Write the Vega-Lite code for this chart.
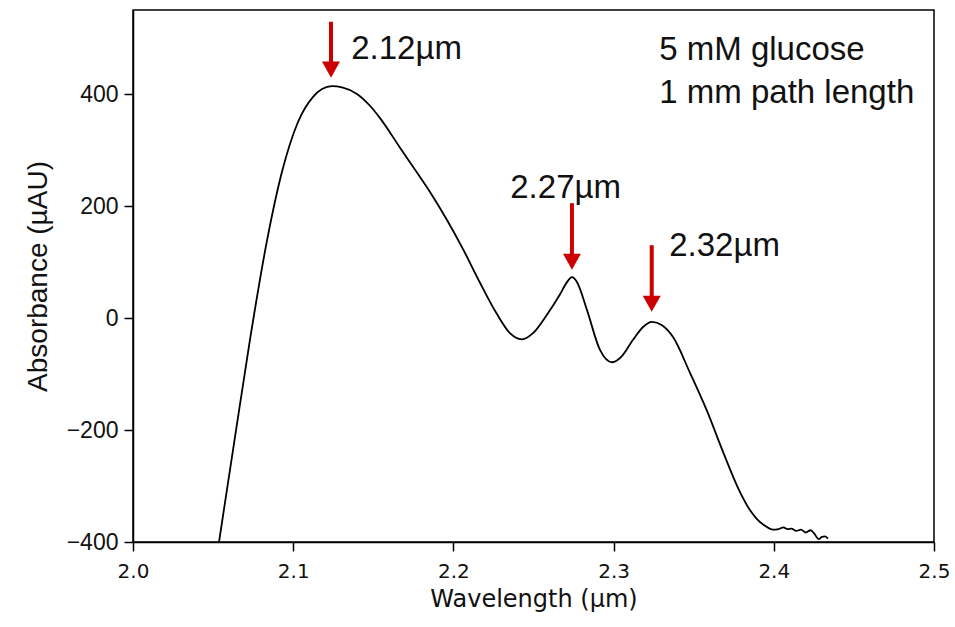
{
  "$schema": "https://vega.github.io/schema/vega-lite/v6.json",
  "width": 801,
  "height": 532,
  "autosize": "none",
  "padding": {"left": 133, "top": 10, "right": 21, "bottom": 85},
  "background": "white",
  "config": {
    "font": "Liberation Sans",
    "view": {"stroke": "black", "strokeWidth": 1.5},
    "axis": {"grid": false, "domainColor": "black", "domainWidth": 1.5, "tickColor": "black", "tickWidth": 1.5, "tickSize": 9, "labelColor": "#111", "titleColor": "#111", "titleFontWeight": "normal", "labelFlush": false, "labelOverlap": false}
  },
  "datasets": {
    "spectrum": [
      {"wl": 2.0537, "abs": -400},
      {"wl": 2.0574, "abs": -330},
      {"wl": 2.0637, "abs": -212},
      {"wl": 2.0730, "abs": -39},
      {"wl": 2.0837, "abs": 139},
      {"wl": 2.0930, "abs": 261},
      {"wl": 2.1030, "abs": 350},
      {"wl": 2.1124, "abs": 395},
      {"wl": 2.1180, "abs": 409},
      {"wl": 2.1242, "abs": 414},
      {"wl": 2.1305, "abs": 412},
      {"wl": 2.1398, "abs": 400},
      {"wl": 2.1479, "abs": 379},
      {"wl": 2.1542, "abs": 357},
      {"wl": 2.1667, "abs": 304},
      {"wl": 2.1748, "abs": 270},
      {"wl": 2.1854, "abs": 225},
      {"wl": 2.1960, "abs": 175},
      {"wl": 2.2060, "abs": 123},
      {"wl": 2.2166, "abs": 63},
      {"wl": 2.2272, "abs": 7},
      {"wl": 2.2353, "abs": -27},
      {"wl": 2.2428, "abs": -38},
      {"wl": 2.2497, "abs": -27},
      {"wl": 2.2584, "abs": 6},
      {"wl": 2.2665, "abs": 42},
      {"wl": 2.2709, "abs": 64},
      {"wl": 2.2740, "abs": 73},
      {"wl": 2.2772, "abs": 64},
      {"wl": 2.2834, "abs": 14},
      {"wl": 2.2915, "abs": -57},
      {"wl": 2.2990, "abs": -79},
      {"wl": 2.3052, "abs": -68},
      {"wl": 2.3121, "abs": -39},
      {"wl": 2.3184, "abs": -16},
      {"wl": 2.3240, "abs": -7},
      {"wl": 2.3302, "abs": -13},
      {"wl": 2.3371, "abs": -34},
      {"wl": 2.3477, "abs": -98},
      {"wl": 2.3583, "abs": -166},
      {"wl": 2.3683, "abs": -239},
      {"wl": 2.3789, "abs": -311},
      {"wl": 2.3851, "abs": -343},
      {"wl": 2.3895, "abs": -359},
      {"wl": 2.3945, "abs": -371},
      {"wl": 2.3995, "abs": -378},
      {"wl": 2.4030, "abs": -377},
      {"wl": 2.4060, "abs": -374},
      {"wl": 2.4085, "abs": -377},
      {"wl": 2.4110, "abs": -376},
      {"wl": 2.4140, "abs": -380},
      {"wl": 2.4170, "abs": -378},
      {"wl": 2.4200, "abs": -383},
      {"wl": 2.4230, "abs": -379},
      {"wl": 2.4255, "abs": -386},
      {"wl": 2.4280, "abs": -395},
      {"wl": 2.4300, "abs": -391},
      {"wl": 2.4320, "abs": -390},
      {"wl": 2.4338, "abs": -394}
    ],
    "arrows": [
      {"wl": 2.1236, "top": 529, "base": 457, "tip": 429},
      {"wl": 2.2740, "top": 205, "base": 114, "tip": 86},
      {"wl": 2.3238, "top": 130, "base": 39, "tip": 11}
    ],
    "labels": [
      {"wl": 2.1362, "abs": 480, "text": "2.12µm"},
      {"wl": 2.2355, "abs": 232, "text": "2.27µm"},
      {"wl": 2.3347, "abs": 129, "text": "2.32µm"},
      {"wl": 2.3285, "abs": 479, "text": "5 mM glucose"},
      {"wl": 2.3285, "abs": 402, "text": "1 mm path length"}
    ]
  },
  "layer": [
    {
      "data": {"name": "spectrum"},
      "mark": {"type": "line", "color": "black", "strokeWidth": 1.8, "interpolate": "monotone", "clip": true},
      "encoding": {
        "x": {"field": "wl", "type": "quantitative", "scale": {"domain": [2.0, 2.5], "nice": false}, "axis": {"values": [2.0, 2.1, 2.2, 2.3, 2.4, 2.5], "format": ".1f", "title": "Wavelength (µm)", "labelFont": "DejaVu Sans", "labelFontSize": 20, "titleFont": "DejaVu Sans", "titleFontSize": 24, "labelPadding": 10, "titlePadding": 6}},
        "y": {"field": "abs", "type": "quantitative", "scale": {"domain": [-400, 550], "nice": false, "zero": false}, "axis": {"values": [-400, -200, 0, 200, 400], "format": "~d", "title": "Absorbance (µAU)", "labelFont": "Liberation Sans", "labelFontSize": 23, "titleFont": "Liberation Sans", "titleFontSize": 28, "labelPadding": 6, "titlePadding": 14}}
      }
    },
    {
      "data": {"name": "arrows"},
      "mark": {"type": "rule", "color": "#cc0000", "strokeWidth": 4},
      "encoding": {
        "x": {"field": "wl", "type": "quantitative"},
        "y": {"field": "top", "type": "quantitative"},
        "y2": {"field": "base"}
      }
    },
    {
      "data": {"name": "arrows"},
      "mark": {"type": "point", "shape": "M -1 -1.8 L 1 -1.8 L 0 0 Z", "size": 324, "filled": true, "color": "#cc0000", "opacity": 1},
      "encoding": {
        "x": {"field": "wl", "type": "quantitative"},
        "y": {"field": "tip", "type": "quantitative"}
      }
    },
    {
      "data": {"name": "labels"},
      "mark": {"type": "text", "align": "left", "baseline": "middle", "fontSize": 33, "color": "#111", "font": "Liberation Sans"},
      "encoding": {
        "x": {"field": "wl", "type": "quantitative"},
        "y": {"field": "abs", "type": "quantitative"},
        "text": {"field": "text"}
      }
    }
  ]
}
